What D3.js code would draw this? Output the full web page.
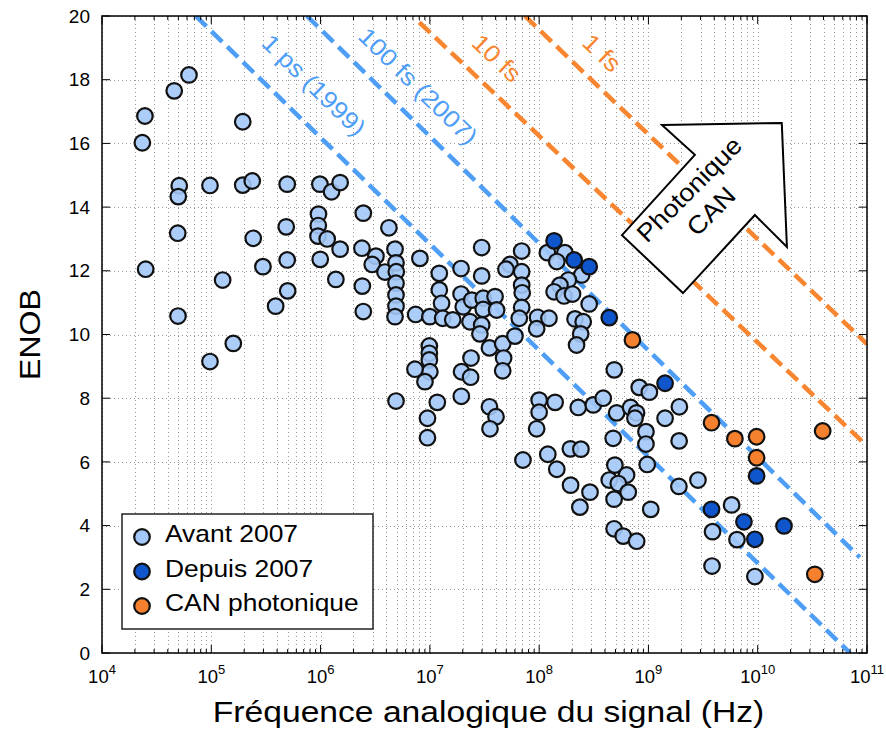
<!DOCTYPE html>
<html><head><meta charset="utf-8">
<script src="https://cdn.jsdelivr.net/npm/d3@7"></script>
<style>body{margin:0;background:#fff}svg{display:block;font-family:"Liberation Sans",Arial,sans-serif}</style>
</head><body><svg id="c" width="886" height="733"></svg>
<script>
// ---- data ----
const avant = [
[2.47e4,16.86],[2.34e4,16.02],[4.58e4,17.65],[6.25e4,18.15],[1.94e5,16.68],[2.51e4,12.05],[5.09e4,14.67],[4.99e4,14.33],[4.93e4,13.18],[4.96e4,10.58],
[9.73e4,14.68],[1.94e5,14.69],[2.37e5,14.82],[4.95e5,14.72],[9.86e5,14.72],[1.26e6,14.48],[1.51e6,14.77],[2.42e5,13.02],[2.97e5,12.13],[1.27e5,11.71],
[3.88e5,10.89],[4.85e5,13.38],[4.95e5,12.34],[5.0e5,11.37],[1.59e5,9.72],[9.73e4,9.15],
[9.57e5,13.78],[9.53e5,13.42],[9.47e5,13.09],[1.15e6,13.0],[1.51e6,12.68],[9.93e5,12.36],[1.38e6,11.73],[2.46e6,13.81],[2.39e6,12.71],[3.21e6,12.46],
[2.97e6,12.20],[2.41e6,11.52],[2.46e6,10.72],[3.88e6,11.96],[4.22e6,13.35],
[4.80e6,12.68],[4.90e6,12.25],[4.93e6,11.97],[4.90e6,11.61],[4.90e6,11.24],[4.90e6,10.89],[4.80e6,10.56],[8.11e6,12.39],[7.41e6,10.63],[1.0e7,10.56],
[1.22e7,11.92],[1.22e7,11.40],[1.28e7,10.98],[1.31e7,10.51],[1.62e7,10.46],[1.93e7,12.07],[1.93e7,11.27],[2.02e7,10.87],[2.33e7,10.40],[2.98e7,12.73],
[2.98e7,11.84],[2.42e7,11.08],[3.08e7,11.14],[3.95e7,11.19],[3.08e7,10.79],[4.08e7,10.77],[2.98e7,10.30],[2.87e7,10.02],[3.51e7,9.58],[4.64e7,9.71],
[6.01e7,9.95],[2.38e7,9.26],[4.73e7,9.26],[4.64e7,8.86],[1.95e7,8.83],[2.36e7,8.66],[1.94e7,8.06],
[9.89e6,9.64],[9.89e6,9.41],[9.89e6,9.20],[1.0e7,8.83],[9.02e6,8.52],[7.31e6,8.91],[4.90e6,7.91],[1.17e7,7.87],[9.51e6,7.37],[9.51e6,6.76],
[3.51e7,7.73],[4.03e7,7.42],[3.55e7,7.04],[1.0e8,7.94],[1.40e8,7.87],[1.0e8,7.56],[9.49e7,7.04],[7.11e7,6.06],[1.20e8,6.24],[1.45e8,5.77],
[1.93e8,6.41],[2.41e8,6.40],[1.94e8,5.27],[2.92e8,5.05],[2.36e8,4.58],[2.28e8,7.71],[3.13e8,7.79],[3.86e8,8.00],[4.87e8,8.89],[5.12e8,7.54],
[8.24e8,8.34],[1.02e9,8.19],[6.87e8,7.71],[7.79e8,7.54],[7.53e8,7.37],[9.49e8,6.95],[9.49e8,6.56],[4.76e8,6.74],[1.92e9,7.73],[1.42e9,7.37],
[1.91e9,6.66],[9.75e8,5.92],[4.93e8,5.90],[6.31e8,5.59],[4.38e8,5.43],[5.30e8,5.32],[6.53e8,5.05],[4.85e8,4.83],[1.05e9,4.51],[4.85e8,3.90],
[5.88e8,3.67],[7.80e8,3.51],[1.90e9,5.23],[2.84e9,5.43],[5.77e9,4.65],[3.86e9,3.81],[6.46e9,3.56],[3.82e9,2.73],[9.42e9,2.40],
[1.19e8,12.57],[1.72e8,12.57],[1.45e8,12.29],[2.45e8,11.87],[1.85e8,11.71],[1.55e8,11.55],[1.37e8,11.34],[1.69e8,11.21],[2.02e8,11.27],[2.87e8,10.96],
[2.13e8,10.49],[2.53e8,10.40],[2.40e8,10.02],[2.20e8,9.67],[6.92e7,12.62],[5.41e7,12.20],[4.97e7,12.05],[6.92e7,11.97],[6.92e7,11.55],[7.00e7,11.31],
[6.92e7,10.85],[6.58e7,10.51],[9.68e7,10.54],[1.23e8,10.51],[9.49e7,10.18]
];
const depuis = [
[1.37e8,12.94],[2.09e8,12.34],[2.87e8,12.13],[4.38e8,10.53],[1.42e9,8.47],[9.77e9,5.56],[3.78e9,4.51],[7.48e9,4.12],[9.42e9,3.57],[1.74e10,3.99]
];
const photonique = [
[7.14e8,9.83],[3.78e9,7.23],[6.18e9,6.73],[9.77e9,6.79],[9.77e9,6.13],[3.93e10,6.97],[3.33e10,2.47]
];
// jitter limit lines: endpoints (Hz, ENOB) and label anchor (Hz, ENOB)
const jitterLabels = ["1 ps (1999)", "100 fs (2007)", "10 fs", "1 fs"];
const jitterGroup  = ["elec", "elec", "photo", "photo"];
const jitterStart  = [[7.2e4,20],[7.5e5,20],[8.0e6,19.8],[7.4e7,20]];
const jitterEnd    = [[7.0e10,0],[8.6e10,3.0],[1e11,6.5],[1e11,9.7]];
const jitterLabelAt= [[8.7e5,17.83],[7.8e6,17.80],[4.1e7,18.68],[3.76e8,18.84]];
// big arrow annotation (polygon in Hz, ENOB)
const arrowPoly = [[1.33e9,16.58],[1.66e10,16.64],[1.85e10,12.75],[9.42e9,13.75],[2.07e9,11.30],[5.73e8,13.12],[2.66e9,15.64]];
const arrowText = ["Photonique","CAN"];
const arrowTextAt = [2.96e9,14.22];
const xTickExponents = [4,5,6,7,8,9,10,11];
const yTicks = [0,2,4,6,8,10,12,14,16,18,20];
const legendLabels = ["Avant 2007","Depuis 2007","CAN photonique"];
const xTitle = "Fréquence analogique du signal (Hz)";
const yTitle = "ENOB";

// ---- styles ----
const colors = {avant:"#a3c8f7", depuis:"#0f55cc", photo:"#f5812f", elecLine:"#4f9ef6", photoLine:"#f8852f"};
const seriesList = [{d:avant,c:colors.avant,op:0.9},{d:depuis,c:colors.depuis,op:1},{d:photonique,c:colors.photo,op:1}];

const svg = d3.select("#c");
const x = d3.scaleLog().domain([1e4,1e11]).range([102,867]);
const y = d3.scaleLinear().domain([0,20]).range([653,16]);
const X0=x.range()[0], X1=x.range()[1], Y0=y.range()[0], Y1=y.range()[1];

svg.append("defs").append("clipPath").attr("id","clip")
  .append("rect").attr("x",X0).attr("y",Y1).attr("width",X1-X0).attr("height",Y0-Y1);

// grid
const xGridVals = [];
for (let p=4;p<11;p++) for (let m=1;m<10;m++) xGridVals.push(m*Math.pow(10,p));
xGridVals.push(1e11);
const grid = svg.append("g").attr("stroke","#9a9a9a").attr("stroke-width",1).attr("stroke-dasharray","1,3");
grid.selectAll("line.v").data(xGridVals).join("line")
  .attr("x1",d=>Math.round(x(d))+0.5).attr("x2",d=>Math.round(x(d))+0.5).attr("y1",Y1).attr("y2",Y0);
grid.selectAll("line.h").data(yTicks).join("line")
  .attr("y1",d=>Math.round(y(d))+0.5).attr("y2",d=>Math.round(y(d))+0.5).attr("x1",X0).attr("x2",X1);

// jitter lines
const gl = svg.append("g").attr("clip-path","url(#clip)");
jitterLabels.forEach((lab,i)=>{
  const col = jitterGroup[i]==="elec"?colors.elecLine:colors.photoLine;
  gl.append("line")
    .attr("x1",x(jitterStart[i][0])).attr("y1",y(jitterStart[i][1]))
    .attr("x2",x(jitterEnd[i][0])).attr("y2",y(jitterEnd[i][1]))
    .attr("stroke",col).attr("stroke-width",4.5).attr("stroke-dasharray","15,7");
});

// points
seriesList.forEach(s=>{
  svg.append("g").selectAll("circle").data(s.d).join("circle")
    .attr("cx",d=>x(d[0])).attr("cy",d=>y(d[1])).attr("r",7.8)
    .attr("fill",s.c).attr("fill-opacity",s.op)
    .attr("stroke","#111").attr("stroke-width",2.2);
});

// jitter labels
jitterLabels.forEach((lab,i)=>{
  const col = jitterGroup[i]==="elec"?colors.elecLine:colors.photoLine;
  const ang = Math.atan2(y(jitterEnd[i][1])-y(jitterStart[i][1]), x(jitterEnd[i][0])-x(jitterStart[i][0]))*180/Math.PI;
  svg.append("text")
    .attr("transform",`translate(${x(jitterLabelAt[i][0])},${y(jitterLabelAt[i][1])}) rotate(${ang}) scale(1.1,1)`)
    .attr("text-anchor","middle").attr("dy","0.35em")
    .attr("font-size",24).attr("fill",col).text(lab);
});

// arrow
svg.append("polygon")
  .attr("points",arrowPoly.map(p=>[x(p[0]),y(p[1])].join(",")).join(" "))
  .attr("fill","#fff").attr("stroke","#000").attr("stroke-width",2).attr("stroke-linejoin","miter");
const at = svg.append("text")
  .attr("transform",`translate(${x(arrowTextAt[0])},${y(arrowTextAt[1])}) rotate(-45) scale(1.08,1)`)
  .attr("text-anchor","middle").attr("font-size",25).attr("fill","#000");
arrowText.forEach((t,i)=>at.append("tspan").attr("x",0).attr("y",(i-0.5)*31+9).text(t));

// legend
const lg = svg.append("g");
lg.append("rect").attr("x",122).attr("y",514).attr("width",251).attr("height",115)
  .attr("fill","#fff").attr("stroke","#222").attr("stroke-width",1.5);
legendLabels.forEach((lab,i)=>{
  const cy = 537 + i*34.5;
  lg.append("circle").attr("cx",142).attr("cy",cy).attr("r",7.8)
    .attr("fill",seriesList[i].c).attr("stroke","#111").attr("stroke-width",2.2);
  lg.append("text").attr("transform",`translate(165,${cy-3}) scale(1.1,1)`).attr("dy","0.35em")
    .attr("font-size",24).attr("fill","#000").text(lab);
});

// axes frame and ticks
const ax = svg.append("g").attr("stroke","#000");
ax.append("rect").attr("x",X0).attr("y",Y1).attr("width",X1-X0).attr("height",Y0-Y1)
  .attr("fill","none").attr("stroke-width",1.5);
xGridVals.forEach(v=>{
  const major = Math.abs(Math.log10(v)-Math.round(Math.log10(v)))<1e-9;
  const L = major?8:4, xv = x(v);
  ax.append("line").attr("x1",xv).attr("x2",xv).attr("y1",Y0).attr("y2",Y0-L).attr("stroke-width",1);
  ax.append("line").attr("x1",xv).attr("x2",xv).attr("y1",Y1).attr("y2",Y1+L).attr("stroke-width",1);
});
yTicks.forEach(v=>{
  ax.append("line").attr("x1",X0).attr("x2",X0+8).attr("y1",y(v)).attr("y2",y(v)).attr("stroke-width",1);
  ax.append("line").attr("x1",X1).attr("x2",X1-8).attr("y1",y(v)).attr("y2",y(v)).attr("stroke-width",1);
});

// tick labels
svg.append("g").selectAll("text").data(yTicks).join("text")
  .attr("x",X0-12).attr("y",d=>y(d)).attr("dy","0.35em").attr("text-anchor","end")
  .attr("font-size",19).attr("fill","#000").text(d=>d);
xTickExponents.forEach(p=>{
  const t = svg.append("text").attr("x",x(Math.pow(10,p))).attr("y",683)
    .attr("text-anchor","middle").attr("font-size",18.5).attr("fill","#000");
  t.append("tspan").text("10");
  t.append("tspan").attr("dy",-9).attr("font-size",13).text(p);
});

// titles
svg.append("text").attr("transform",`translate(${(X0+X1)/2+4},722) scale(1.14,1)`)
  .attr("text-anchor","middle").attr("font-size",29.5).attr("fill","#000").text(xTitle);
svg.append("text").attr("transform",`translate(40,${(Y0+Y1)/2}) rotate(-90) scale(1.07,1)`)
  .attr("text-anchor","middle").attr("font-size",30).attr("fill","#000").text(yTitle);
</script></body></html>
